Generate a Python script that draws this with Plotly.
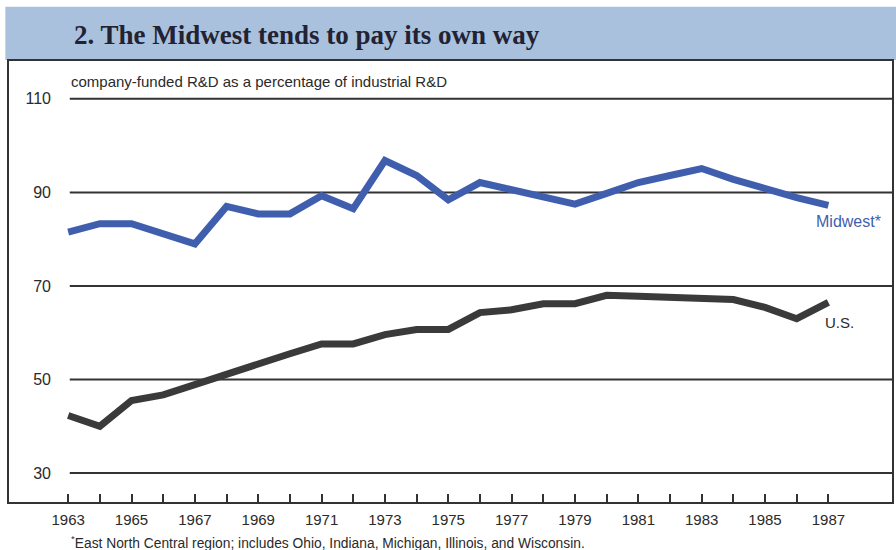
import plotly.graph_objects as go

years = list(range(1963, 1988))
midwest = [81.5, 83.3, 83.3, 81.0, 79.0, 87.0, 85.4, 85.4, 89.3, 86.5, 96.8, 93.6,
           88.4, 92.1, 90.5, 89.1, 87.5, 89.8, 92.1, 93.6, 95.1, 92.8, 90.8, 88.9, 87.2]
us = [42.3, 40.0, 45.5, 46.7, 48.9, 51.1, 53.6, 55.5, 57.6, 57.6, 59.6, 60.7,
      60.7, 64.3, 64.9, 66.2, 66.2, 68.0, 67.8, 67.6, 67.3, 67.1, 65.4, 63.0, 66.5]
y_ticks = [30, 50, 70, 90, 110]
label_years = [1963, 1965, 1967, 1969, 1971, 1973, 1975, 1977, 1979, 1981, 1983, 1985, 1987]
x_labels = [str(y) for y in label_years]

title = "<b>2. The Midwest tends to pay its own way</b>"
subtitle = "company-funded R&amp;D as a percentage of industrial R&amp;D"
footnote = "<sup>*</sup>East North Central region; includes Ohio, Indiana, Michigan, Illinois, and Wisconsin."

BLUE = "#3f5fae"
DARK = "#3a3a3a"
TXT = "#2a2a2a"
SANS = "Liberation Sans, Arial, sans-serif"

XR = [1961.1, 1989.04]
YR = [23.6, 118.3]

fig = go.Figure()
fig.add_trace(go.Scatter(x=years, y=midwest, mode="lines",
                         line=dict(color=BLUE, width=7), hoverinfo="skip"))
fig.add_trace(go.Scatter(x=years, y=us, mode="lines",
                         line=dict(color=DARK, width=7), hoverinfo="skip"))

shapes = []
# title band
shapes.append(dict(type="rect", xref="paper", yref="paper", x0=-0.003, x1=1.004,
                   y0=1.0, y1=1.12, fillcolor="#a9c1dc", line=dict(width=0), layer="below"))
# gridlines
for v in y_ticks:
    shapes.append(dict(type="line", xref="x", yref="y", x0=years[0] + 0.05, x1=XR[1],
                       y0=v, y1=v, line=dict(color="#333333", width=2), layer="below"))
# frame
shapes.append(dict(type="rect", xref="paper", yref="paper", x0=0, x1=1, y0=0, y1=1,
                   line=dict(color="#333333", width=2)))

annotations = [
    dict(text=title, xref="paper", yref="paper", x=0.0723, y=1.057, xanchor="left",
         yanchor="middle", showarrow=False,
         font=dict(family="Liberation Serif, Times New Roman, serif", size=27, color="#222233"),
         ),
    dict(text=subtitle, xref="paper", yref="paper", x=0.069, y=0.951, xanchor="left",
         yanchor="middle", showarrow=False, font=dict(family=SANS, size=15, color=TXT)),
    dict(text=footnote, xref="paper", yref="paper", x=0.069, y=-0.088, xanchor="left",
         yanchor="middle", showarrow=False, font=dict(family=SANS, size=13.8, color=TXT)),
    dict(text="Midwest*", x=years[-1], y=midwest[-1], xref="x", yref="y", xanchor="left",
         yanchor="middle", xshift=-14, yshift=-16, showarrow=False,
         font=dict(family=SANS, size=16, color=BLUE)),
    dict(text="U.S.", x=years[-1], y=us[-1], xref="x", yref="y", xanchor="left",
         yanchor="middle", xshift=-5, yshift=-20, showarrow=False,
         font=dict(family=SANS, size=15, color=TXT)),
]

fig.update_layout(
    width=896, height=550,
    margin=dict(l=8, r=3, t=60, b=47),
    paper_bgcolor="white", plot_bgcolor="white",
    showlegend=False,
    shapes=shapes, annotations=annotations,
    xaxis=dict(range=XR, tickmode="array", tickvals=label_years, ticktext=x_labels,
               ticks="inside", ticklen=9, tickwidth=2, tickcolor="#333333",
               minor=dict(tickmode="array", tickvals=years, ticks="inside", ticklen=9,
                          tickwidth=2, tickcolor="#333333", showgrid=False),
               showgrid=False, zeroline=False, showline=False, automargin=False,
               ticklabelstandoff=6,
               tickfont=dict(family=SANS, size=15, color=TXT)),
    yaxis=dict(range=YR, tickmode="array", tickvals=y_ticks,
               anchor="free", position=0.0486, side="left", automargin=False,
               ticks="", showgrid=False, zeroline=False, showline=False,
               tickfont=dict(family=SANS, size=16, color=TXT)),
)

fig.write_html("out.html", config={"displayModeBar": False},
               post_script="document.body.style.margin='0';document.body.style.overflow='hidden';")
